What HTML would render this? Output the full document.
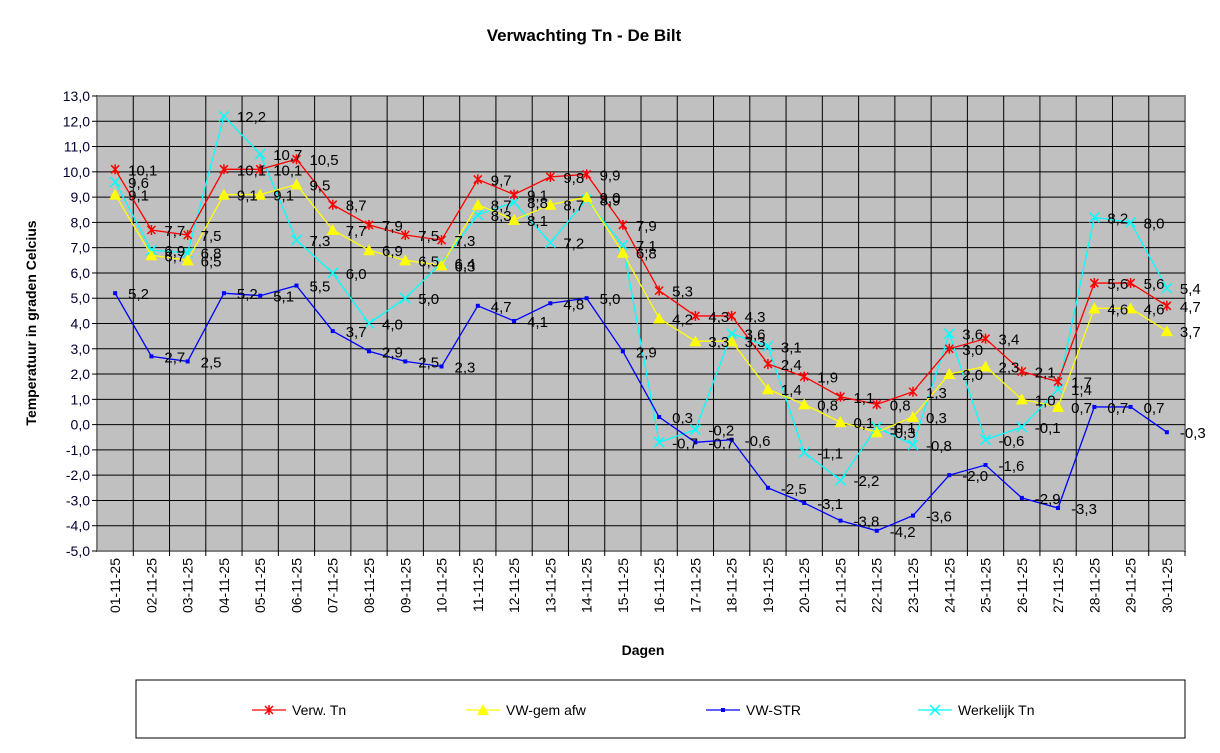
<!DOCTYPE html>
<html><head><meta charset="utf-8"><style>
body{margin:0;background:#fff;font-family:"Liberation Sans",Arial,sans-serif}
</style></head><body>
<svg id="chart" width="1220" height="748" xmlns="http://www.w3.org/2000/svg" font-family="Liberation Sans, Arial, sans-serif">
<text x="584" y="41" font-size="17" font-weight="bold" text-anchor="middle">Verwachting Tn - De Bilt</text>
<rect x="97" y="96" width="1088" height="455" fill="#c0c0c0" stroke="#808080" stroke-width="2"/>
<g id="grid"></g>
<g id="yticks"></g>
<g id="xticks"></g>
<g id="series"></g>
<g id="labels"></g>
<text transform="translate(36,323) rotate(-90)" font-size="14" font-weight="bold" text-anchor="middle">Temperatuur in graden Celcius</text>
<text x="643" y="655" font-size="14" font-weight="bold" text-anchor="middle">Dagen</text>
<rect x="136" y="680" width="1049" height="58" fill="#fff" stroke="#000" stroke-width="1"/>
<g id="legend"></g>
</svg>
<script>
const categories=[];for(let d=1;d<=30;d++)categories.push((d<10?'0':'')+d+'-11-25');
const verwTn=[10.1,7.7,7.5,10.1,10.1,10.5,8.7,7.9,7.5,7.3,9.7,9.1,9.8,9.9,7.9,5.3,4.3,4.3,2.4,1.9,1.1,0.8,1.3,3.0,3.4,2.1,1.7,5.6,5.6,4.7];
const vwGem=[9.1,6.7,6.5,9.1,9.1,9.5,7.7,6.9,6.5,6.3,8.7,8.1,8.7,9.0,6.8,4.2,3.3,3.3,1.4,0.8,0.1,-0.3,0.3,2.0,2.3,1.0,0.7,4.6,4.6,3.7];
const vwStr=[5.2,2.7,2.5,5.2,5.1,5.5,3.7,2.9,2.5,2.3,4.7,4.1,4.8,5.0,2.9,0.3,-0.7,-0.6,-2.5,-3.1,-3.8,-4.2,-3.6,-2.0,-1.6,-2.9,-3.3,0.7,0.7,-0.3];
const werkTn=[9.6,6.9,6.8,12.2,10.7,7.3,6.0,4.0,5.0,6.4,8.3,8.8,7.2,8.9,7.1,-0.7,-0.2,3.6,3.1,-1.1,-2.2,-0.1,-0.8,3.6,-0.6,-0.1,1.4,8.2,8.0,5.4];
const yTicks=[-5,-4,-3,-2,-1,0,1,2,3,4,5,6,7,8,9,10,11,12,13];
const seriesNames=['Verw. Tn','VW-gem afw','VW-STR','Werkelijk Tn'];

const NS='http://www.w3.org/2000/svg';
const L=97,R=1185,T=96,B=551,YMIN=-5,YMAX=13;
const bw=(R-L)/categories.length;
const xs=i=>L+bw*(i+0.5);
const ys=v=>B-(v-YMIN)/(YMAX-YMIN)*(B-T);
const fmt=v=>v.toFixed(1).replace('.',',');
function mk(tag,at,parent){const e=document.createElementNS(NS,tag);for(const k in at)e.setAttribute(k,at[k]);parent.appendChild(e);return e;}
const grid=document.getElementById('grid'),yt=document.getElementById('yticks'),xt=document.getElementById('xticks');
yTicks.forEach(v=>{
  const y=ys(v);
  if(v>YMIN&&v<YMAX){const g=mk('line',{x1:L,x2:R,y1:y,y2:y,stroke:'#000','stroke-width':1},grid);
  
  }
  mk('line',{x1:L-5,x2:L,y1:y,y2:y,stroke:'#000'},yt);
  const t=mk('text',{x:L-7,y:y+5,'font-size':14,'text-anchor':'end',fill:'#000033'},yt);t.textContent=fmt(v);
  
  
});
categories.forEach((c,i)=>{
  const xb=L+bw*(i+1);
  if(i<categories.length-1){const g=mk('line',{x1:xb,x2:xb,y1:T,y2:B,stroke:'#000','stroke-width':1},grid);
  
  }
  mk('line',{x1:xb,x2:xb,y1:B,y2:B+5,stroke:'#000'},xt);
  const x=xs(i);
  const t=mk('text',{transform:`translate(${x+5},558) rotate(-90)`,'font-size':14,'text-anchor':'end'},xt);t.textContent=c;
  
  
});
const sg=document.getElementById('series'),lg=document.getElementById('labels'),leg=document.getElementById('legend');
function marker(type,x,y,col,p){
  if(type==='star'){mk('path',{d:`M${x-4} ${y-4}L${x+4} ${y+4}M${x-4} ${y+4}L${x+4} ${y-4}M${x} ${y-5}L${x} ${y+5}`,stroke:col,'stroke-width':1.5,fill:'none'},p);}
  else if(type==='tri'){mk('path',{d:`M${x} ${y-6}L${x+6} ${y+5}L${x-6} ${y+5}Z`,fill:col},p);}
  else if(type==='sq'){mk('rect',{x:x-2,y:y-2,width:4,height:4,fill:col},p);}
  else {mk('path',{d:`M${x-5} ${y-5}L${x+5} ${y+5}M${x-5} ${y+5}L${x+5} ${y-5}`,stroke:col,'stroke-width':1.5,fill:'none'},p);}
}
const defs=[[werkTn,'#00ffff','x','series-werkelijk-tn'],[vwStr,'#0000ff','sq','series-vw-str'],[vwGem,'#ffff00','tri','series-vw-gem-afw'],[verwTn,'#ff0000','star','series-verw-tn']];
defs.forEach(([d,col,m,name])=>{
  const g=mk('g',{},sg);
  
  
  mk('polyline',{points:d.map((v,i)=>xs(i)+','+ys(v)).join(' '),fill:'none',stroke:col,'stroke-width':1.3},g);
  d.forEach((v,i)=>{marker(m,xs(i),ys(v),col,g);
    const t=mk('text',{x:xs(i)+13,y:ys(v)+6,'font-size':15},lg);t.textContent=fmt(v);
    
    });
});
const legItems=[['Verw. Tn','#ff0000','star',252],['VW-gem afw','#ffff00','tri',466],['VW-STR','#0000ff','sq',706],['Werkelijk Tn','#00ffff','x',918]];
legItems.forEach(([n,col,m,x])=>{
  const g=mk('g',{},leg);
  
  
  mk('line',{x1:x,x2:x+34,y1:710,y2:710,stroke:col,'stroke-width':1.3},g);
  marker(m,x+17,710,col,g);
  const t=mk('text',{x:x+40,y:715,'font-size':14},g);t.textContent=n;
});
</script>
</body></html>
